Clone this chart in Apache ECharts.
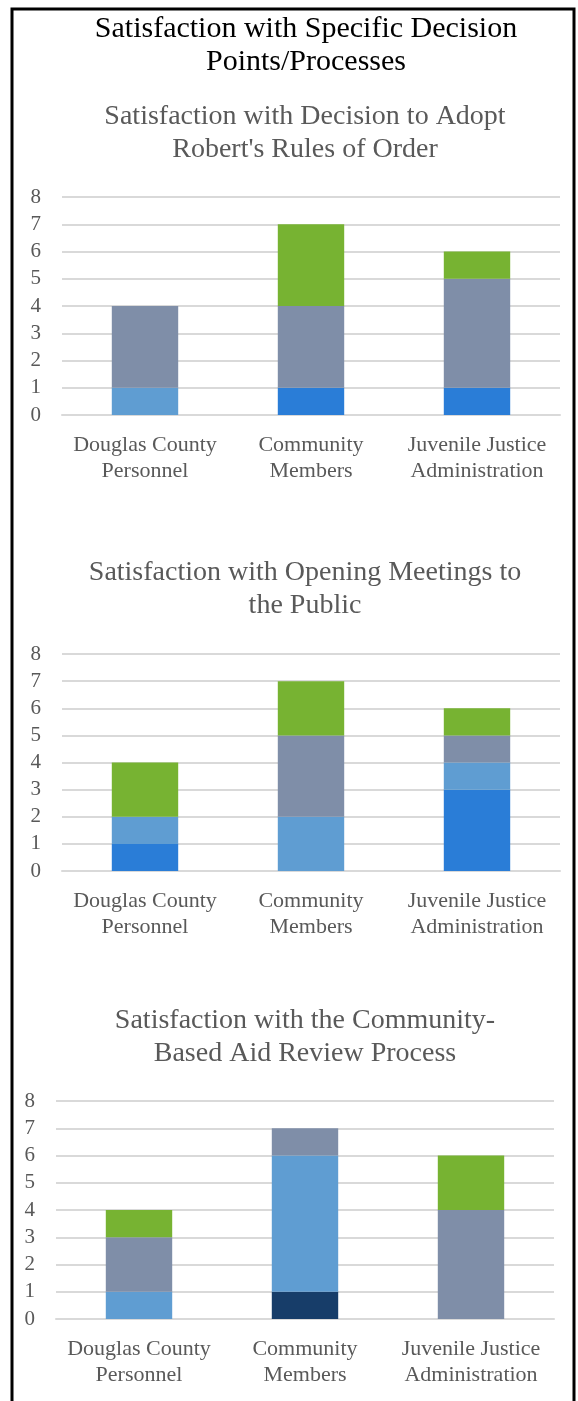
<!DOCTYPE html>
<html><head><meta charset="utf-8">
<script src="https://cdn.jsdelivr.net/npm/echarts@6/dist/echarts.min.js"></script>
<style>html,body{margin:0;padding:0;background:#fff}#c{width:578px;height:1401px}</style>
</head><body><div id="c"></div>
<script>
var categories = ['Douglas County\nPersonnel', 'Community\nMembers', 'Juvenile Justice\nAdministration'];
var yTicks = [0,1,2,3,4,5,6,7,8];
var seriesNames = ['Level 1', 'Level 2', 'Level 3', 'Level 4', 'Level 5'];
var seriesColors = ['#173d69', '#2a7dd7', '#5f9dd2', '#7f8ea8', '#77b332'];

var mainTitle = 'Satisfaction with Specific Decision\nPoints/Processes';
var chartTitles = [
  "Satisfaction with Decision to Adopt\nRobert's Rules of Order",
  'Satisfaction with Opening Meetings to\nthe Public',
  'Satisfaction with the Community-\nBased Aid Review Process'
];

// chart 1: Robert's Rules
var c1Level1 = [0, 0, 0];
var c1Level2 = [0, 1, 1];
var c1Level3 = [1, 0, 0];
var c1Level4 = [3, 3, 4];
var c1Level5 = [0, 3, 1];
// chart 2: Opening meetings
var c2Level1 = [0, 0, 0];
var c2Level2 = [1, 0, 3];
var c2Level3 = [1, 2, 1];
var c2Level4 = [0, 3, 1];
var c2Level5 = [2, 2, 1];
// chart 3: Community-Based Aid review
var c3Level1 = [0, 1, 0];
var c3Level2 = [0, 0, 0];
var c3Level3 = [1, 5, 0];
var c3Level4 = [2, 1, 4];
var c3Level5 = [1, 0, 2];

var chartData = [
  [c1Level1, c1Level2, c1Level3, c1Level4, c1Level5],
  [c2Level1, c2Level2, c2Level3, c2Level4, c2Level5],
  [c3Level1, c3Level2, c3Level3, c3Level4, c3Level5]
];

var FONT = 'Liberation Serif';
var GREY = '#595959';
var grids = [
  {left: 62, width: 498, top: 197, height: 218},
  {left: 62, width: 498, top: 654, height: 217},
  {left: 56, width: 498, top: 1101, height: 218}
];
var titleTops = [95, 551, 999];

var option = {
  animation: false,
  title: [{
    text: mainTitle, left: 301, top: 8, textAlign: 'center',
    textStyle: {fontFamily: FONT, fontSize: 30, fontWeight: 'normal', color: '#000', lineHeight: 33}
  }].concat(chartTitles.map(function(t, i){
    return {text: t, left: 300, top: titleTops[i], textAlign: 'center',
      textStyle: {fontFamily: FONT, fontSize: 28, fontWeight: 'normal', color: GREY, lineHeight: 33}};
  })),
  grid: grids,
  xAxis: grids.map(function(g, i){
    return {type: 'category', gridIndex: i, data: categories,
      axisLine: {show: true, lineStyle: {color: '#d9d9d9', width: 2}},
      axisTick: {show: false},
      axisLabel: {interval: 0, fontFamily: FONT, fontSize: 22, color: GREY, lineHeight: 26, margin: 17}};
  }),
  yAxis: grids.map(function(g, i){
    return {type: 'value', gridIndex: i, min: yTicks[0], max: yTicks[yTicks.length-1], interval: 1,
      axisLine: {show: false}, axisTick: {show: false},
      splitLine: {lineStyle: {color: '#d9d9d9', width: 2}},
      axisLabel: {fontFamily: FONT, fontSize: 21, color: GREY, margin: 21}};
  }),
  series: [],
  graphic: [{
    type: 'rect', shape: {x: 12, y: 9, width: 562, height: 1420},
    style: {fill: 'none', stroke: '#000', lineWidth: 3}, silent: true
  }]
};

chartData.forEach(function(levels, ci){
  levels.forEach(function(vals, li){
    option.series.push({
      type: 'bar', name: seriesNames[li], stack: 'c' + ci,
      xAxisIndex: ci, yAxisIndex: ci, barWidth: '40%',
      itemStyle: {color: seriesColors[li]},
      data: vals.map(function(v){ return v === 0 ? null : v; })
    });
  });
});

var chart = echarts.init(document.getElementById('c'), null, {renderer: 'canvas'});
chart.setOption(option);
</script></body></html>
